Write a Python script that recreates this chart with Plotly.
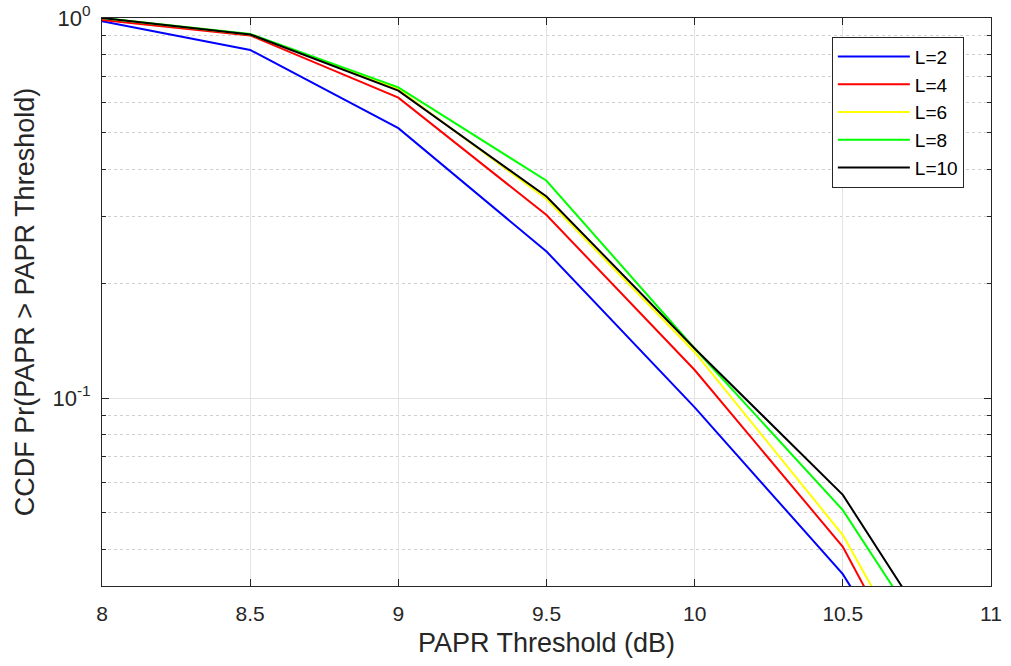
import plotly.graph_objects as go

x_vals = [8, 8.5, 9, 9.5, 10, 10.5, 11]
L2 = [0.98, 0.824, 0.513, 0.243, 0.0945, 0.0344, 0.0081]
L4 = [0.988, 0.90, 0.617, 0.303, 0.1185, 0.0406, 0.0076]
L6 = [1.0, 0.905, 0.65, 0.334, 0.132, 0.0436, 0.00875]
L8 = [1.0, 0.908, 0.657, 0.373, 0.135, 0.0507, 0.0128]
L10 = [1.0, 0.905, 0.644, 0.339, 0.135, 0.0556, 0.0138]

series_names = ["L=2", "L=4", "L=6", "L=8", "L=10"]
series_vals = [L2, L4, L6, L8, L10]
series_colors = ["#0000ff", "#ff0000", "#ffff00", "#00ff00", "#000000"]

x_ticks = [8, 8.5, 9, 9.5, 10, 10.5, 11]
x_ticktext = ["8", "8.5", "9", "9.5", "10", "10.5", "11"]
y_ticks = [0.1, 1]
y_ticktext = ["10<sup>-1</sup>", "10<sup>0</sup>"]
y_minor = [0.04, 0.05, 0.06, 0.07, 0.08, 0.09, 0.2, 0.3, 0.4, 0.5, 0.6, 0.7, 0.8, 0.9]

fig = go.Figure()
for name, vals, col in zip(series_names, series_vals, series_colors):
    fig.add_trace(go.Scatter(x=x_vals, y=vals, mode="lines", name=name,
                             line=dict(color=col, width=2)))

axis_color = "#262626"
font_family = "Liberation Sans, Arial, sans-serif"

fig.update_layout(
    width=1011, height=666,
    margin=dict(l=102, r=20, t=18, b=80),
    paper_bgcolor="white", plot_bgcolor="white",
    font=dict(family=font_family, color=axis_color, size=21),
    showlegend=True,
    legend=dict(x=0.821, y=0.967, xanchor="left", yanchor="top",
                bgcolor="white", bordercolor=axis_color, borderwidth=1,
                font=dict(size=19, color="#000000"), itemwidth=72,
                tracegroupgap=0),
)
fig.update_xaxes(
    range=[8, 11], tickvals=x_ticks, ticktext=x_ticktext, automargin=False,
    showline=True, linecolor=axis_color, linewidth=1, mirror="ticks",
    ticks="inside", ticklen=7, tickcolor=axis_color, ticklabelstandoff=9,
    showgrid=True, gridcolor="#e3e3e3", gridwidth=1, zeroline=False,
    title=dict(text="PAPR Threshold (dB)", font=dict(size=27), standoff=8),
    tickfont=dict(size=21),
)
fig.update_yaxes(
    type="log", range=[-1.4947, 0.0], tickvals=y_ticks, ticktext=y_ticktext,
    automargin=False,
    showline=True, linecolor=axis_color, linewidth=1, mirror="ticks",
    ticks="inside", ticklen=7, tickcolor=axis_color, ticklabelstandoff=6,
    showgrid=True, gridcolor="#e3e3e3", gridwidth=1, zeroline=False,
    minor=dict(tickvals=y_minor, ticks="inside", ticklen=4, tickcolor=axis_color,
               showgrid=True, gridcolor="#d0d0d0", griddash="dot", gridwidth=1),
    title=dict(text="CCDF Pr(PAPR > PAPR Threshold)", font=dict(size=27), standoff=9),
    tickfont=dict(size=22),
)

fig.write_html("out.html", config={"displayModeBar": False},
               post_script="document.body.style.margin='0px';")
